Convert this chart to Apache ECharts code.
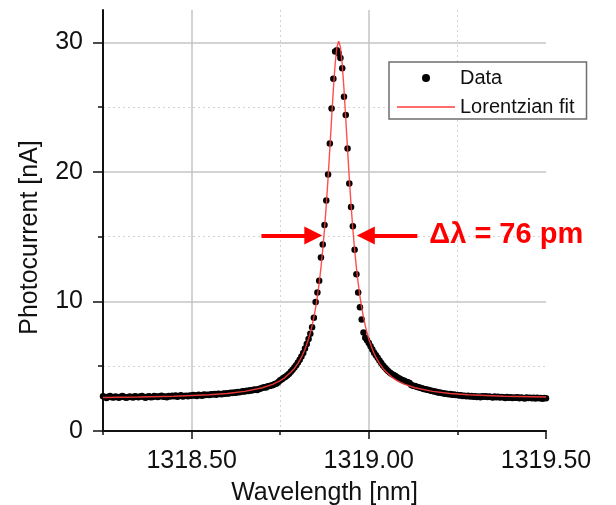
<!DOCTYPE html>
<html>
<head>
<meta charset="utf-8">
<title>Lorentzian resonance</title>
<script src="https://cdn.jsdelivr.net/npm/echarts@6/dist/echarts.min.js"></script>
<style>
html,body{margin:0;padding:0;background:#fff}
#chart{width:616px;height:505px}
</style>
</head>
<body>
<div id="chart"></div>
<script>
// measured photocurrent, sampled every 5 pm from 1318.25 nm
var wlStart = 1318.25;
var wlStep = 0.005;
var photocurrent = [
  2.68,2.62,2.55,2.64,2.70,2.61,2.58,2.66,2.63,2.57,
  2.65,2.70,2.62,2.56,2.60,2.67,2.63,2.58,2.69,2.64,
  2.60,2.66,2.71,2.62,2.57,2.65,2.68,2.61,2.63,2.70,
  2.66,2.62,2.69,2.73,2.64,2.67,2.60,2.70,2.66,2.72,
  2.68,2.74,2.65,2.70,2.76,2.67,2.71,2.73,2.68,2.75,
  2.72,2.78,2.74,2.70,2.79,2.76,2.73,2.81,2.77,2.80,
  2.78,2.84,2.82,2.86,2.80,2.88,2.85,2.83,2.90,2.87,
  2.92,2.89,2.95,2.93,2.98,2.96,3.01,2.99,3.03,3.06,
  3.05,3.10,3.08,3.14,3.12,3.18,3.20,3.17,3.25,3.28,
  3.33,3.38,3.36,3.45,3.48,3.52,3.55,3.62,3.66,3.78,
  3.92,4.00,4.12,4.18,4.30,4.42,4.58,4.72,4.90,5.08,
  5.28,5.50,5.76,6.02,6.36,6.72,
  7.10,7.50,8.00,8.75,9.95,10.70,11.60,13.40,14.40,15.90,
  17.80,19.80,22.20,24.90,27.20,29.30,29.40,
  29.15,28.80,28.00,25.80,24.40,21.80,19.10,17.30,15.80,14.00,
  12.10,10.70,9.55,8.60,7.60,7.20,
  7.00,6.80,6.55,6.30,6.05,5.85,5.65,5.45,5.25,5.05,
  4.90,4.75,4.62,4.50,4.40,
  4.32,4.25,4.15,4.08,4.00,3.92,3.88,3.80,3.76,3.70,
  3.56,3.50,3.47,3.41,3.38,3.33,3.30,3.25,3.23,3.18,
  3.16,3.10,3.09,3.04,3.03,2.98,2.97,2.93,2.92,2.88,
  2.88,2.84,2.85,2.80,2.81,2.77,2.78,2.74,2.76,2.71,
  2.73,2.69,2.72,2.66,2.70,2.65,2.68,2.62,2.67,2.61,
  2.69,2.64,2.68,2.62,2.67,2.63,2.59,2.66,2.61,2.64,
  2.58,2.63,2.60,2.55,2.62,2.57,2.61,2.54,2.59,2.56,
  2.60,2.53,2.58,2.55,2.51,2.59,2.54,2.57,2.52,2.56,
  2.50,2.57,2.53,2.55,2.49,2.54,2.52
];

// lorentzian fit curve
var fitWavelength = [1318.25,1318.35,1318.45,1318.55,1318.60,1318.65,1318.70,1318.73,1318.75,1318.76,
  1318.78,1318.79,1318.80,1318.81,1318.82,1318.83,1318.835,1318.84,1318.845,1318.85,
  1318.855,1318.86,1318.865,1318.87,1318.875,1318.88,1318.885,1318.89,1318.895,1318.90,
  1318.905,1318.91,1318.915,1318.92,1318.925,1318.93,1318.935,1318.94,1318.945,1318.95,
  1318.955,1318.96,1318.965,1318.97,1318.975,1318.98,1318.985,1318.99,1318.995,1319.00,
  1319.01,1319.02,1319.03,1319.04,1319.05,1319.065,1319.08,1319.10,1319.13,1319.18,
  1319.23,1319.28,1319.38,1319.50];
var fitCurrent = [2.59,2.62,2.68,2.80,2.90,3.06,3.34,3.62,3.89,4.06,
  4.53,4.83,5.22,5.70,6.31,7.10,7.58,8.14,8.78,9.53,
  10.40,11.42,12.61,13.99,15.59,17.43,19.50,21.76,24.11,26.38,
  28.31,29.63,30.10,29.63,28.31,26.38,24.11,21.76,19.50,17.43,
  15.59,13.99,12.61,11.42,10.40,9.53,8.78,8.14,7.58,7.10,
  6.31,5.70,5.22,4.83,4.53,4.16,3.89,3.62,3.34,3.06,
  2.90,2.80,2.68,2.62];

var xMajorTicks = [1318.5, 1319.0, 1319.5];
var xMinorTicks = [1318.25, 1318.75, 1319.25];
var yMajorTicks = [0, 10, 20, 30];
var yMinorTicks = [5, 15, 25];

// FWHM arrows (tail, head) at this level
var fwhmLevel = 15.1;
var arrowLeft = [1318.697, 1318.8435];
var arrowRight = [1319.137, 1318.9916];
var fwhmText = 'Δλ = 76 pm';

var FONT = '"Liberation Sans", Arial, sans-serif';
var INK = '#111';

var chart = echarts.init(document.getElementById('chart'));

var dataPts = photocurrent.map(function(v, i){ return [wlStart + i*wlStep, v]; });
var fitPts = fitWavelength.map(function(x, i){ return [x, fitCurrent[i]]; });

var option = {
  animation: false,
  backgroundColor: '#fff',
  grid: {left: 103, right: 70, top: 10, bottom: 74, containLabel: false, outerBoundsMode: 'none'},
  legend: {
    orient: 'vertical', left: 389, top: 62,
    padding: [6, 12, 2, 8], itemGap: 9,
    itemWidth: 58, itemHeight: 8,
    borderColor: '#6e6e6e', borderWidth: 1.5, backgroundColor: '#fff',
    textStyle: {fontSize: 20, color: INK, fontFamily: FONT},
    data: [
      {name: 'Data', icon: 'circle'},
      {name: 'Lorentzian fit', icon: 'path://M0,0L58,0L58,1.4L0,1.4Z'}
    ]
  },
  xAxis: [
    {
      type: 'value', position: 'bottom', min: 1318.25, max: 1319.5, interval: 0.25,
      axisLine: {onZero: false, lineStyle: {color: INK, width: 2}},
      axisTick: {customValues: xMajorTicks, length: 8, lineStyle: {color: INK, width: 1.5}},
      axisLabel: {customValues: xMajorTicks, formatter: function(v){ return v.toFixed(2); },
        fontSize: 25, color: INK, margin: 18, fontFamily: FONT},
      splitLine: {show: true, showMaxLine: false, lineStyle: {color: '#c4c4c4', width: 1.5}},
      name: 'Wavelength [nm]', nameLocation: 'middle', nameGap: 50,
      nameTextStyle: {fontSize: 25, color: INK, fontFamily: FONT}
    },
    {
      type: 'value', position: 'bottom', min: 1318.25, max: 1319.5, interval: 0.25,
      axisLine: {show: false, onZero: false},
      axisTick: {customValues: xMinorTicks, length: 4, lineStyle: {color: INK, width: 1.5}},
      axisLabel: {show: false},
      splitLine: {show: true, showMinLine: false, lineStyle: {color: '#d4d4d4', width: 1, type: [2, 3]}}
    }
  ],
  yAxis: [
    {
      type: 'value', position: 'left', min: 0, max: 32.5, interval: 10,
      axisLine: {show: true, onZero: false, lineStyle: {color: INK, width: 2}},
      axisTick: {show: true, customValues: yMajorTicks, length: 10, lineStyle: {color: INK, width: 1.5}},
      axisLabel: {customValues: yMajorTicks, fontSize: 25, color: INK, margin: 20, fontFamily: FONT},
      splitLine: {show: true, lineStyle: {color: '#c4c4c4', width: 1.5}},
      name: 'Photocurrent [nA]', nameLocation: 'middle', nameRotate: 90, nameGap: 60,
      nameTextStyle: {fontSize: 25, color: INK, fontFamily: FONT, padding: [0, 34, 0, 0]}
    },
    {
      type: 'value', position: 'left', min: 0, max: 32.5, interval: 10,
      axisLine: {show: false, onZero: false},
      axisTick: {show: true, customValues: yMinorTicks, length: 5, lineStyle: {color: INK, width: 1.5}},
      axisLabel: {show: false},
      splitLine: {show: true, lineStyle: {color: '#d4d4d4', width: 1, type: [2, 3]}}
    }
  ],
  series: [
    {
      name: 'Data', type: 'scatter', data: dataPts,
      symbol: 'circle', symbolSize: 6.5,
      itemStyle: {color: '#000', opacity: 1}, z: 2
    },
    {
      name: 'Lorentzian fit', type: 'line', data: fitPts,
      symbol: 'none', showSymbol: false,
      lineStyle: {color: '#ff3b3b', width: 1.4, opacity: 0.9},
      itemStyle: {color: '#ff3b3b'}, z: 3,
      markLine: {
        silent: true, animation: false,
        symbol: ['none', 'triangle'], symbolSize: 18,
        lineStyle: {color: '#ff0000', width: 4, type: 'solid', opacity: 1},
        itemStyle: {color: '#ff0000'},
        label: {show: false},
        data: [
          [{coord: [arrowLeft[0], fwhmLevel]}, {coord: [arrowLeft[1], fwhmLevel]}],
          [{coord: [arrowRight[0], fwhmLevel],
            label: {show: true, position: 'start', distance: 12, formatter: fwhmText,
              color: '#ff0000', fontSize: 29, fontWeight: 'bold', fontFamily: FONT}},
           {coord: [arrowRight[1], fwhmLevel]}]
        ]
      }
    }
  ]
};

chart.setOption(option);
</script>
</body>
</html>
